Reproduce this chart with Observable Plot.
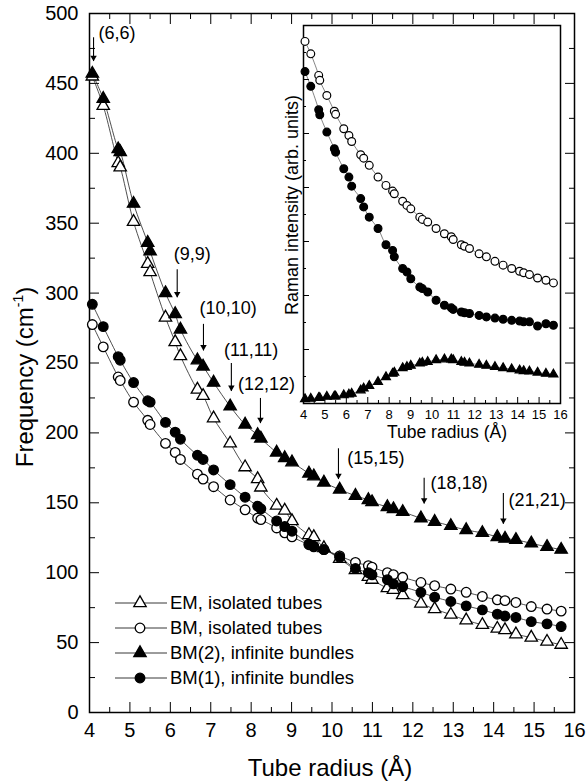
<!DOCTYPE html>
<html><head><meta charset="utf-8">
<script src="https://cdn.jsdelivr.net/npm/d3@7"></script>
<script src="https://cdn.jsdelivr.net/npm/@observablehq/plot@0.6"></script>
<style>
body{margin:0;background:#fff;}
#wrap{position:relative;width:587px;height:783px;}
#inset{position:absolute;left:270px;top:15px;}
</style></head><body><div id="wrap"><div id="main"></div><div id="inset"></div></div>
<script>
// ---------- data ----------
const radius = [4.07, 4.34, 4.71, 4.76, 5.09, 5.44, 5.50, 5.88, 6.12, 6.25, 6.67, 6.81, 7.07, 7.48, 7.85, 8.16, 8.24, 8.63, 8.83, 9.01, 9.43, 9.55, 9.80, 10.19, 10.58, 10.90, 10.99, 11.37, 11.52, 11.75, 12.20, 12.54, 12.94, 13.32, 13.72, 14.09, 14.28, 14.55, 14.93, 15.32, 15.67];
const emIsolated = [455, 434, 393, 390, 351, 321, 315, 282.5, 265, 255, 231, 226.5, 210.5, 192.5, 175.5, 167, 161, 148, 144.5, 137, 127, 125.5, 117.7, 110, 102, 97, 95, 89, 87.8, 84, 78, 74, 70, 66, 62.7, 60, 59, 56, 53.6, 50.7, 48.5];
const bmIsolated = [277.5, 261.5, 240, 237.5, 222, 209, 206, 192.5, 186, 181, 170.5, 167, 161.5, 152, 145, 139, 138, 132, 128.5, 125.6, 120, 118.5, 116.5, 112, 107.4, 105, 104, 100, 98.6, 96.7, 93, 90.7, 88.3, 86, 83, 80.6, 80, 78.7, 75.8, 74, 72.5];
const bm2Bundles = [457, 439, 403, 401, 364, 336, 330, 300, 285, 274, 252, 247.5, 236, 219, 206, 198.5, 196, 186, 182, 179, 171, 169, 164.5, 159.5, 155, 152, 150.5, 147, 145.5, 143.5, 139, 136.5, 133.5, 130.5, 128.5, 125.6, 124.4, 123.5, 121, 118.5, 116.5];
const bm1Bundles = [292, 276, 254.5, 252, 236, 223, 222, 207.5, 200.5, 195.5, 184, 181, 173.5, 163, 154, 147.6, 145.7, 137, 133, 129.7, 120.5, 119, 116.5, 111, 103, 100, 98.5, 95, 92, 90, 86, 82.5, 79.4, 76.3, 73.4, 70.3, 69, 68, 65, 63.4, 61.5];

// inset: Raman intensity (arb. units)
const insetBM = [95.8, 92.5, 86.8, 85.5, 81.5, 77.3, 76.5, 72.7, 70.9, 69.3, 65.8, 64.9, 63, 59.9, 57.7, 56.2, 55.5, 53.5, 52.4, 51.5, 49.3, 48.7, 48, 46.3, 44.9, 44.1, 43.4, 42, 41.6, 41, 39.6, 38.8, 37.6, 36.6, 35.7, 35, 34.6, 34.1, 33.2, 32.6, 31.9];
const insetBM1 = [87.8, 83.9, 77.7, 76.4, 71.8, 67.4, 66.5, 62.1, 59.9, 57.5, 54.2, 52, 49.3, 46.3, 42, 40.5, 38.8, 35.7, 34.8, 33, 30.8, 30.4, 29.5, 27.3, 26, 25.3, 24.9, 24.2, 24, 23.8, 23.3, 22.9, 22.6, 22.3, 22, 21.8, 21.6, 21.6, 20.5, 21.1, 20.7];
const insetBM2 = [1.2, 1.3, 1.5, 1.5, 1.8, 1.9, 1.9, 2.2, 2.4, 2.6, 3.5, 4, 4.7, 5.7, 7, 7.9, 8.2, 9.4, 9.7, 10, 10.6, 10.8, 11, 11.5, 11.7, 11.7, 11.5, 11, 10.8, 10.6, 10.3, 10, 9.7, 9.4, 9.1, 8.8, 8.6, 8.5, 8.2, 7.9, 7.7];

const seriesNames = ["EM, isolated tubes", "BM, isolated tubes", "BM(2), infinite bundles", "BM(1), infinite bundles"];
const xTicks = d3.range(4, 16.01, 1);
const xMinorTicks = d3.range(4.5, 16, 1);
const yTicks = d3.range(0, 501, 50);
const yMinorTicks = d3.range(25, 500, 50);
const insetYTicks = d3.range(1, 7).map(k => k * 100 / 7);
const insetYMinorTicks = d3.range(0, 7).map(k => (k + 0.5) * 100 / 7);

const annotLabels = ["(6,6)", "(9,9)", "(10,10)", "(11,11)", "(12,12)", "(15,15)", "(18,18)", "(21,21)"];
const annotX = [4.10, 6.17, 6.82, 7.51, 8.23, 10.16, 12.28, 14.24];
const annotYFrom = [483, 317, 278, 250, 225, 189, 168, 157];
const annotYTo = [466, 297, 259, 230, 207, 167, 149.5, 135];
const labelX = [4.22, 6.54, 7.43, 8.0, 8.38, 10.38, 12.44, 14.37];
const labelY = [486, 328, 289, 259, 235, 182, 164, 152];
const labelAnchor = ["start", "middle", "middle", "middle", "middle", "start", "start", "start"];

// ---------- build tables ----------
const styles = [
  {symbol: "triangle", fill: "white", r: 4.6},
  {symbol: "circle", fill: "white", r: 4.8},
  {symbol: "triangle", fill: "black", r: 4.6},
  {symbol: "circle", fill: "black", r: 4.8}
];
const mainValues = [emIsolated, bmIsolated, bm2Bundles, bm1Bundles];
const mainData = mainValues.flatMap((vals, i) => vals.map((v, j) => ({series: seriesNames[i], r: radius[j], v})));
const insetValues = [insetBM, insetBM1, insetBM2];
const insetStyles = [
  {symbol: "circle", fill: "white", r: 3.9},
  {symbol: "circle", fill: "black", r: 3.9},
  {symbol: "triangle", fill: "black", r: 3.3}
];
const insetData = insetValues.flatMap((vals, i) => vals.map((v, j) => ({s: i, r: radius[j], v})));
const annots = annotLabels.map((label, i) => ({label, x: annotX[i], y1: annotYFrom[i], y2: annotYTo[i], lx: labelX[i], ly: labelY[i], anchor: labelAnchor[i]}));

const font = '"Liberation Sans", Arial, Helvetica, sans-serif';

const main = Plot.plot({
  width: 587, height: 783,
  marginTop: 13, marginBottom: 71, marginLeft: 89, marginRight: 13,
  style: {fontFamily: font, background: "white", color: "black", overflow: "visible"},
  x: {domain: [4, 16]},
  y: {domain: [0, 500]},
  marks: [
    Plot.axisX(xTicks, {anchor: "bottom", tickSize: -10, text: null, label: null}),
    Plot.axisX(xMinorTicks, {anchor: "bottom", tickSize: -5, text: null, label: null}),
    Plot.axisX(xTicks, {anchor: "top", tickSize: -10, text: null, label: null}),
    Plot.axisX(xMinorTicks, {anchor: "top", tickSize: -5, text: null, label: null}),
    Plot.axisY(yTicks, {anchor: "left", tickSize: -10, text: null, label: null}),
    Plot.axisY(yMinorTicks, {anchor: "left", tickSize: -6, text: null, label: null}),
    Plot.axisY(yTicks, {anchor: "right", tickSize: -10, text: null, label: null}),
    Plot.axisY(yMinorTicks, {anchor: "right", tickSize: -6, text: null, label: null}),
    Plot.axisX(xTicks, {anchor: "bottom", tickSize: 0, tickPadding: 10, fontSize: 20, label: null, tickFormat: d => d}),
    Plot.axisY(yTicks, {anchor: "left", tickSize: 0, tickPadding: 11, fontSize: 20, label: null, tickFormat: d => d}),
    Plot.frame({strokeWidth: 1.5}),
    Plot.line(mainData, {x: "r", y: "v", z: "series", curve: "catmull-rom", stroke: "#222", strokeWidth: 0.8}),
    ...seriesNames.map((name, i) => Plot.dot(mainData.filter(d => d.series === name), {
      x: "r", y: "v", symbol: styles[i].symbol, r: styles[i].r, fill: styles[i].fill, stroke: "black", strokeWidth: 1.3
    })),
    Plot.link(annots, {x1: "x", x2: "x", y1: "y1", y2: "y2", stroke: "black", strokeWidth: 1.1}),
    Plot.dot(annots, {x: "x", y: "y2", symbol: "triangle", rotate: 180, r: 2.4, fill: "black", stroke: "none", dy: -3.5}),
    Plot.text(annots.filter(d => d.anchor === "start"), {x: "lx", y: "ly", text: "label", textAnchor: "start", fontSize: 18, fill: "black"}),
    Plot.text(annots.filter(d => d.anchor === "middle"), {x: "lx", y: "ly", text: "label", textAnchor: "middle", fontSize: 18, fill: "black"})
  ]
});
document.getElementById("main").appendChild(main);

// titles and legend
const svg = d3.select(main);
svg.append("text").attr("x", 330).attr("y", 776).attr("text-anchor", "middle")
  .attr("font-family", font).attr("font-size", 24).attr("fill", "black").text("Tube radius (Å)");
const yt = svg.append("text").attr("transform", "translate(33,377) rotate(-90)").attr("text-anchor", "middle")
  .attr("font-family", font).attr("font-size", 24).attr("fill", "black");
yt.append("tspan").text("Frequency (cm");
yt.append("tspan").attr("font-size", 14).attr("dy", -10).text("-1");
yt.append("tspan").attr("dy", 10).text(")");

const lg = svg.append("g").attr("font-family", font).attr("font-size", 18.5).attr("text-anchor", "start");
seriesNames.forEach((name, i) => {
  const y = 603 + i * 25;
  lg.append("line").attr("x1", 115).attr("x2", 167).attr("y1", y).attr("y2", y).attr("stroke", "#222").attr("stroke-width", 0.9);
  const type = styles[i].symbol === "triangle" ? d3.symbolTriangle : d3.symbolCircle;
  lg.append("path").attr("d", d3.symbol(type, Math.PI * styles[i].r * styles[i].r)())
    .attr("transform", `translate(140,${y})`).attr("fill", styles[i].fill).attr("stroke", "black").attr("stroke-width", 1.3);
  lg.append("text").attr("x", 170).attr("y", y).attr("dy", "0.35em").attr("text-anchor", "start").attr("fill", "black").text(name);
});

// ---------- inset ----------
const inset = Plot.plot({
  width: 300, height: 430,
  marginTop: 10, marginBottom: 42, marginLeft: 33, marginRight: 10,
  style: {fontFamily: font, background: "transparent", color: "black", overflow: "visible"},
  x: {domain: [4, 16]},
  y: {domain: [0, 100]},
  marks: [
    Plot.frame({fill: "white", stroke: "none"}),
    Plot.axisX(xTicks, {anchor: "bottom", tickSize: -6, text: null, label: null}),
    Plot.axisX(xMinorTicks, {anchor: "bottom", tickSize: -3, text: null, label: null}),
    Plot.axisY(insetYTicks, {anchor: "left", tickSize: -6, text: null, label: null}),
    Plot.axisY(insetYMinorTicks, {anchor: "left", tickSize: -3, text: null, label: null}),
    Plot.axisX(xTicks, {anchor: "bottom", tickSize: 0, tickPadding: 6, fontSize: 13, label: null, tickFormat: d => d}),
    Plot.frame({strokeWidth: 1.5}),
    Plot.line(insetData, {x: "r", y: "v", z: "s", curve: "catmull-rom", stroke: "#333", strokeWidth: 0.6}),
    ...insetStyles.map((st, i) => Plot.dot(insetData.filter(d => d.s === i), {
      x: "r", y: "v", symbol: st.symbol, r: st.r, fill: st.fill, stroke: "black", strokeWidth: 1.2
    }))
  ]
});
document.getElementById("inset").appendChild(inset);
const isvg = d3.select(inset);
isvg.append("text").attr("x", 177).attr("y", 423).attr("text-anchor", "middle")
  .attr("font-family", font).attr("font-size", 17.5).attr("fill", "black").text("Tube radius (Å)");
isvg.append("text").attr("transform", "translate(28,190) rotate(-90)").attr("text-anchor", "middle")
  .attr("font-family", font).attr("font-size", 18).attr("fill", "black").text("Raman intensity (arb. units)");
</script></body></html>
